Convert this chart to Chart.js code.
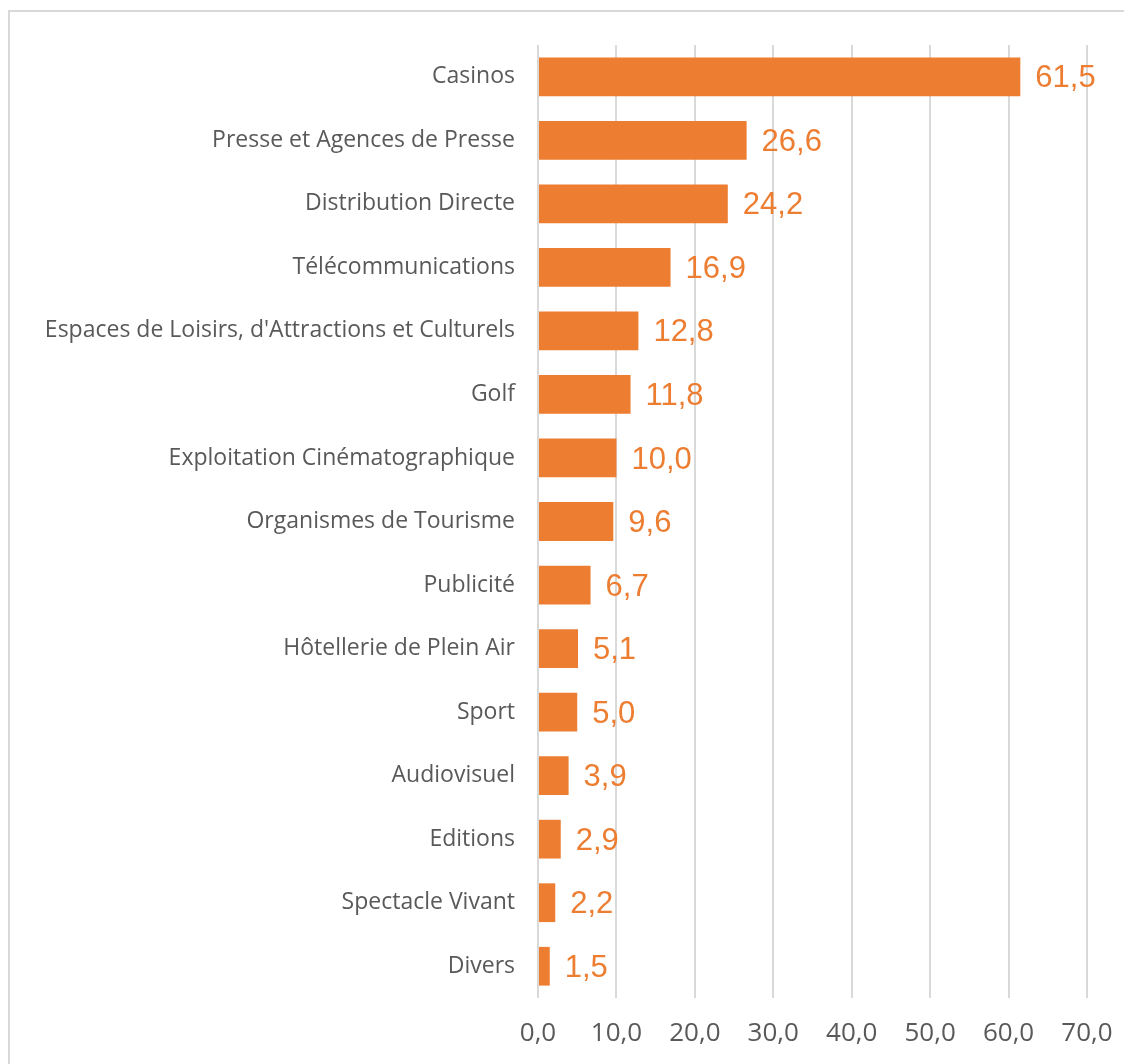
<!DOCTYPE html>
<html>
<head>
<meta charset="utf-8">
<script src="https://cdn.jsdelivr.net/npm/chart.js@4"></script>
<style>
  html, body { margin: 0; padding: 0; background: #fff; overflow: hidden; }
  #wrap { position: relative; width: 1124px; height: 1064px; }
  #frame { position: absolute; left: 8px; top: 10px; width: 1300px; height: 1200px; border: 2px solid #d9d9d9; box-sizing: border-box; }
  canvas { position: absolute; left: 0; top: 0; }
</style>
</head>
<body>
<div id="wrap">
  <div id="frame"></div>
  <canvas id="chart" width="1124" height="1064"></canvas>
</div>
<script>
const categories = [
  "Casinos",
  "Presse et Agences de Presse",
  "Distribution Directe",
  "Télécommunications",
  "Espaces de Loisirs, d'Attractions et Culturels",
  "Golf",
  "Exploitation Cinématographique",
  "Organismes de Tourisme",
  "Publicité",
  "Hôtellerie de Plein Air",
  "Sport",
  "Audiovisuel",
  "Editions",
  "Spectacle Vivant",
  "Divers"
];
const values = [61.5, 26.6, 24.2, 16.9, 12.8, 11.8, 10.0, 9.6, 6.7, 5.1, 5.0, 3.9, 2.9, 2.2, 1.5];
const xTicks = [0, 10, 20, 30, 40, 50, 60, 70];

const fmt = (v) => Number(v).toFixed(1).replace(".", ",");

// draws the value next to each bar end
const valueLabels = {
  id: "valueLabels",
  afterDatasetsDraw(chart) {
    const ctx = chart.ctx;
    const meta = chart.getDatasetMeta(0);
    ctx.save();
    ctx.font = "31px 'Liberation Sans', Arial, sans-serif";
    ctx.fillStyle = "#ED7D31";
    ctx.textAlign = "left";
    ctx.textBaseline = "middle";
    meta.data.forEach((bar, i) => {
      ctx.fillText(fmt(values[i]), bar.x + 15, bar.y + 2);
    });
    ctx.restore();
  }
};

const ctx = document.getElementById("chart").getContext("2d");
new Chart(ctx, {
  type: "bar",
  data: {
    labels: categories,
    datasets: [{
      data: values,
      backgroundColor: "#ED7D31",
      borderWidth: 0,
      barPercentage: 0.61,
      categoryPercentage: 1
    }]
  },
  options: {
    indexAxis: "y",
    responsive: false,
    animation: false,
    layout: { padding: { left: 0, right: 37, top: 45, bottom: 0 } },
    plugins: {
      legend: { display: false },
      tooltip: { enabled: false }
    },
    scales: {
      x: {
        min: 0,
        max: 70,
        afterBuildTicks: (s) => { s.ticks = xTicks.map((v) => ({ value: v })); },
        afterFit: (s) => { s.height = 66; s.paddingLeft = 0; s.paddingRight = 0; },
        grid: { color: "#d9d9d9", lineWidth: 2, drawTicks: false },
        border: { display: false },
        ticks: {
          color: "#595959",
          padding: 20,
          font: { family: "'Open Sans', sans-serif", size: 26 },
          callback: (v) => fmt(v)
        }
      },
      y: {
        afterFit: (s) => { s.width = 538; },
        grid: { display: false },
        border: { display: false },
        ticks: {
          color: "#595959",
          padding: 15,
          font: { family: "'Open Sans', sans-serif", size: 23 }
        }
      }
    }
  },
  plugins: [valueLabels]
});
</script>
</body>
</html>
